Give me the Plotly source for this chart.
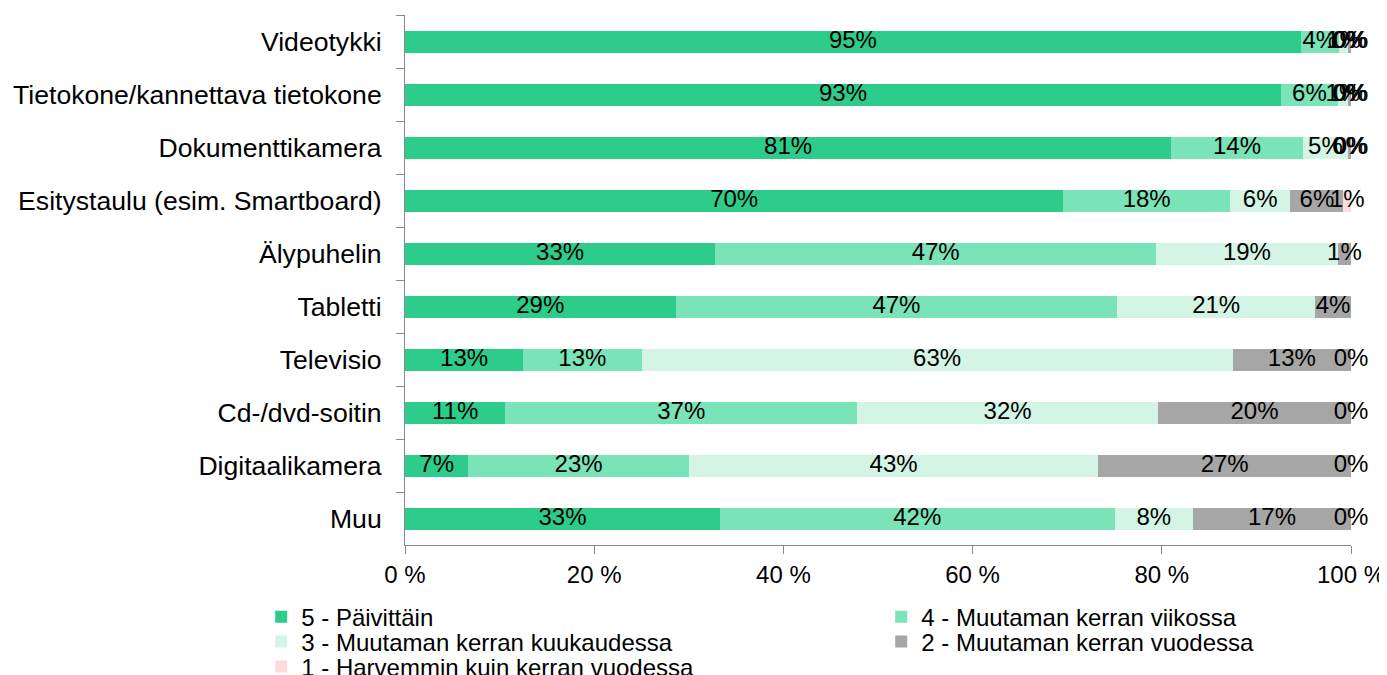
import math
import plotly.graph_objects as go

categories = [
    "Videotykki",
    "Tietokone/kannettava tietokone",
    "Dokumenttikamera",
    "Esitystaulu (esim. Smartboard)",
    "Älypuhelin",
    "Tabletti",
    "Televisio",
    "Cd-/dvd-soitin",
    "Digitaalikamera",
    "Muu",
]

series_names = [
    "5 - Päivittäin",
    "4 - Muutaman kerran viikossa",
    "3 - Muutaman kerran kuukaudessa",
    "2 - Muutaman kerran vuodessa",
    "1 - Harvemmin kuin kerran vuodessa",
]

s5_daily = [94.7, 92.6, 81.0, 69.6, 32.8, 28.6, 12.5, 10.6, 6.7, 33.3]
s4_weekly = [4.0, 6.0, 13.9, 17.6, 46.6, 46.7, 12.5, 37.2, 23.3, 41.7]
s3_monthly = [1.0, 1.1, 4.8, 6.4, 19.2, 20.9, 62.5, 31.8, 43.3, 8.3]
s2_yearly = [0.3, 0.3, 0.3, 5.6, 1.4, 3.8, 12.5, 20.4, 26.7, 16.7]
s1_rarely = [0.0, 0.0, 0.0, 0.8, 0.0, 0.0, 0.0, 0.0, 0.0, 0.0]

series_values = [s5_daily, s4_weekly, s3_monthly, s2_yearly, s1_rarely]
colors = ["#2ECC8A", "#7BE3B8", "#D4F5E6", "#A6A6A6", "#FDDCDE"]
legend_ids = ["legend", "legend", "legend2", "legend2", "legend3"]

x_ticks = [0, 20, 40, 60, 80, 100]

FONT = "Liberation Sans, Arial, sans-serif"

fig = go.Figure()

for name, vals, col, lg in zip(series_names, series_values, colors, legend_ids):
    fig.add_trace(go.Bar(
        name=name,
        y=categories,
        x=vals,
        orientation="h",
        marker=dict(color=col, line=dict(width=0)),
        legend=lg,
        hoverinfo="x+y+name",
    ))

# data labels centred in each segment (computed from the series values)
cum = [0.0] * len(categories)
for vals in series_values:
    centers = [c + v / 2 for c, v in zip(cum, vals)]
    labels = [f"{math.floor(v + 0.5)}%" for v in vals]
    fig.add_trace(go.Scatter(
        x=centers,
        y=categories,
        mode="text",
        text=labels,
        textposition="middle center",
        textfont=dict(family=FONT, size=24, color="#000000"),
        showlegend=False,
        hoverinfo="skip",
        cliponaxis=False,
    ))
    cum = [c + v for c, v in zip(cum, vals)]

axis_color = "#898989"

# the page body adds an 8px offset, so the figure is 8px smaller than the window
fig.update_layout(
    width=1379,
    height=667,
    barmode="stack",
    bargap=0.585,
    paper_bgcolor="#FFFFFF",
    plot_bgcolor="#FFFFFF",
    font=dict(family=FONT, size=24, color="#000000"),
    margin=dict(l=397, r=36, t=7, b=130, autoexpand=False),
    xaxis=dict(
        range=[0, 100],
        tickvals=x_ticks,
        ticktext=[f"{t} %" for t in x_ticks],
        showgrid=False,
        zeroline=False,
        showline=True,
        linecolor=axis_color,
        linewidth=1,
        ticks="outside",
        ticklen=8,
        tickcolor=axis_color,
        tickfont=dict(family=FONT, size=24, color="#000000"),
        automargin=False,
        fixedrange=True,
    ),
    yaxis=dict(
        autorange="reversed",
        showgrid=False,
        zeroline=False,
        showline=True,
        linecolor=axis_color,
        linewidth=1,
        ticks="outside",
        tickson="boundaries",
        ticklen=8,
        tickcolor=axis_color,
        tickfont=dict(family=FONT, size=26.6, color="#000000"),
        ticklabelstandoff=17,
        automargin=False,
        fixedrange=True,
    ),
    legend=dict(
        orientation="h", x=-0.152, xanchor="left", y=-0.136, yanchor="middle",
        entrywidth=575, entrywidthmode="pixels", bgcolor="rgba(0,0,0,0)",
        font=dict(family=FONT, size=24, color="#000000"), traceorder="normal",
    ),
    legend2=dict(
        orientation="h", x=-0.152, xanchor="left", y=-0.183, yanchor="middle",
        entrywidth=575, entrywidthmode="pixels", bgcolor="rgba(0,0,0,0)",
        font=dict(family=FONT, size=24, color="#000000"), traceorder="normal",
    ),
    legend3=dict(
        orientation="h", x=-0.152, xanchor="left", y=-0.230, yanchor="middle",
        entrywidth=575, entrywidthmode="pixels", bgcolor="rgba(0,0,0,0)",
        font=dict(family=FONT, size=24, color="#000000"), traceorder="normal",
    ),
    showlegend=True,
)

fig.write_html("out.html")
